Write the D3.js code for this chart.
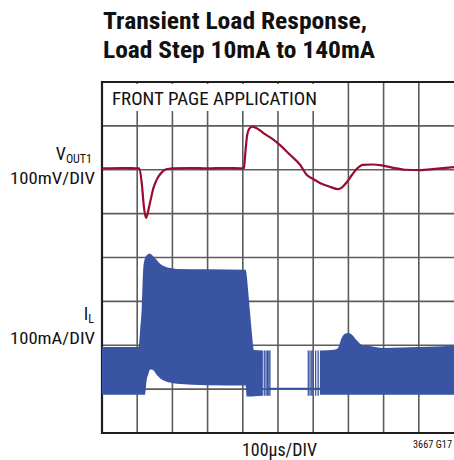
<!DOCTYPE html>
<html>
<head>
<meta charset="utf-8">
<script src="https://cdn.jsdelivr.net/npm/d3@7"></script>
<style>
  html, body { margin: 0; padding: 0; background: #fff; }
  svg { display: block; }
  text { font-family: 'Liberation Sans Narrow', 'Roboto Condensed', 'Liberation Sans', Arial, sans-serif; fill: #111; }
</style>
</head>
<body>
<svg id="chart" width="454" height="460"></svg>
<script>
// ---- Data ----
// Time axis in microseconds (100µs/DIV, 10 divisions)
const timeTicks = [0, 100, 200, 300, 400, 500, 600, 700, 800, 900, 1000];
const divTicks = [0, 1, 2, 3, 4, 5, 6, 7, 8];

// VOUT1 trace: time (µs) and deviation (mV), 100mV/DIV
const voutT  = [0, 60, 104, 106, 113, 119, 125, 129, 134, 140, 146, 153, 160, 170, 179, 190, 198, 250, 300, 350, 402, 403, 408, 412, 418, 426, 438, 450, 463, 483, 506, 534, 563, 582, 600, 619, 648, 670, 682, 696, 710, 724, 741, 767, 795, 824, 861, 903, 946, 1000];
const voutMv = [3, 4, 3, 3, -31, -84, -110, -102, -84, -62, -42, -27, -16, -6, 0, 2, 3, 4, 3, 4, 3, 4, 45, 77, 93, 98, 95, 89, 81, 71, 56, 34, 11, -12, -21, -30, -39, -44, -40, -28, -12, 2, 11, 12, 10, 5, 0, -1, 2, 6];

// IL envelope, segment 1 (before burst gap): time (µs), upper / lower (mA), 100mA/DIV
const il1T     = [0, 104, 108, 113, 117, 122, 127, 132, 136, 141, 146, 155, 160, 170, 184, 193, 212, 300, 408, 411, 415, 420, 425, 432, 457];
const il1Upper = [96, 96, 130, 188, 272, 298, 305, 308, 309, 306, 302, 295, 290, 283, 278, 276, 274, 273, 272, 260, 226, 180, 135, 89, 88];
const il1Lower = [-13, -13, -13, -13, -13, -13, 21, 35, 44, 45, 43, 33, 29, 22, 17, 15, 12, 9, 8, -17, -17, -17, -17, -16, -15];

// IL envelope, segment 2 (after burst gap)
const il2T     = [619, 660, 670, 680, 690, 700, 710, 725, 740, 753, 800, 900, 1000];
const il2Upper = [88, 90, 93, 115, 126, 128, 124, 110, 100, 99, 94, 96, 99];
const il2Lower = [-13, -13, -13, -13, -13, -13, -13, -13, -13, -13, -13, -13, -13];

// Burst-mode switching pulses in the low-load gap (µs)
const burstT = [461, 466, 470, 474, 477, 586, 591, 596, 600, 607, 614];
const burstTop = 88, burstBottom = -15;
// Idle current line during the gap
const idleT = [470, 620];
const idleMa = [1, 1];

// ---- Layout ----
const svg = d3.select('#chart');
const plot = { left: 102, right: 454, top: 82, bottom: 433 };

const x = d3.scaleLinear().domain([0, 1000]).range([plot.left, plot.right]);
const yDiv = d3.scaleLinear().domain([0, 8]).range([plot.bottom, plot.top]);
const yV = d3.scaleLinear().domain([-600, 200]).range([plot.bottom, plot.top]);  // VOUT1 zero at div 6
const yI = d3.scaleLinear().domain([-100, 700]).range([plot.bottom, plot.top]);  // IL zero at div 1

const gridColor = '#5c5c5c';
const red = '#9a0b30';
const blue = '#3a54a4';

// Grid
const grid = svg.append('g');
grid.selectAll('line.v').data(timeTicks.slice(1, -1)).enter().append('line')
  .attr('x1', d => x(d)).attr('x2', d => x(d))
  .attr('y1', plot.top).attr('y2', plot.bottom)
  .attr('stroke', gridColor).attr('stroke-width', 1.6);
grid.selectAll('line.h').data(divTicks.slice(1, -1)).enter().append('line')
  .attr('x1', plot.left).attr('x2', plot.right)
  .attr('y1', d => yDiv(d)).attr('y2', d => yDiv(d))
  .attr('stroke', gridColor).attr('stroke-width', 1.6);

// Border (left, top, bottom)
svg.append('path')
  .attr('d', `M${plot.right},${plot.top}H${plot.left}V${plot.bottom}H${plot.right}`)
  .attr('fill', 'none').attr('stroke', '#1e1e1e').attr('stroke-width', 2.2);

// Label box
svg.append('rect').attr('x', 104).attr('y', 84).attr('width', 217).attr('height', 27).attr('fill', '#fff');
svg.append('text').attr('x', 112).attr('y', 105).attr('font-size', 18)
  .attr('textLength', 205).attr('lengthAdjust', 'spacingAndGlyphs')
  .text('FRONT PAGE APPLICATION');

// IL envelopes
const area = d3.area().x(d => x(d.t)).y0(d => yI(d.lo)).y1(d => yI(d.hi)).curve(d3.curveMonotoneX);
const seg1 = il1T.map((t, i) => ({ t, hi: il1Upper[i], lo: il1Lower[i] }));
const seg2 = il2T.map((t, i) => ({ t, hi: il2Upper[i], lo: il2Lower[i] }));
svg.append('path').datum(seg1).attr('d', area).attr('fill', blue);
svg.append('path').datum(seg2).attr('d', area).attr('fill', blue);

// Idle line
svg.append('path')
  .datum(idleT.map((t, i) => ({ t, v: idleMa[i] })))
  .attr('d', d3.line().x(d => x(d.t)).y(d => yI(d.v)))
  .attr('stroke', blue).attr('stroke-width', 2).attr('fill', 'none');

// Burst pulses
svg.append('g').selectAll('line').data(burstT).enter().append('line')
  .attr('x1', d => x(d)).attr('x2', d => x(d))
  .attr('y1', yI(burstTop)).attr('y2', yI(burstBottom))
  .attr('stroke', blue).attr('stroke-width', 1.3);

// VOUT1 trace
svg.append('path')
  .datum(voutT.map((t, i) => ({ t, v: voutMv[i] })))
  .attr('d', d3.line().x(d => x(d.t)).y(d => yV(d.v)).curve(d3.curveMonotoneX))
  .attr('stroke', red).attr('stroke-width', 2.2).attr('fill', 'none').attr('stroke-linejoin', 'round');

// Title
svg.append('text').attr('x', 103).attr('y', 29).attr('font-size', 24).attr('font-weight', 'bold')
  .attr('textLength', 264).attr('lengthAdjust', 'spacingAndGlyphs')
  .text('Transient Load Response,');
svg.append('text').attr('x', 103).attr('y', 58).attr('font-size', 24).attr('font-weight', 'bold')
  .attr('textLength', 272).attr('lengthAdjust', 'spacingAndGlyphs')
  .text('Load Step 10mA to 140mA');

// Channel labels (subscripts as tspans)
const vLab = svg.append('text').attr('x', 92).attr('y', 160).attr('font-size', 18).attr('text-anchor', 'end');
vLab.append('tspan').text('V');
vLab.append('tspan').attr('font-size', 12).attr('dy', 3).text('OUT1');
svg.append('text').attr('x', 10).attr('y', 184).attr('font-size', 17)
  .attr('textLength', 85).attr('lengthAdjust', 'spacingAndGlyphs').text('100mV/DIV');

const iLab = svg.append('text').attr('x', 94).attr('y', 320).attr('font-size', 18).attr('text-anchor', 'end');
iLab.append('tspan').text('I');
iLab.append('tspan').attr('font-size', 12).attr('dy', 3).text('L');
svg.append('text').attr('x', 10).attr('y', 344).attr('font-size', 17)
  .attr('textLength', 85).attr('lengthAdjust', 'spacingAndGlyphs').text('100mA/DIV');

// Time label and figure code
svg.append('text').attr('x', 242).attr('y', 456).attr('font-size', 18)
  .attr('textLength', 75).attr('lengthAdjust', 'spacingAndGlyphs').text('100µs/DIV');
svg.append('text').attr('x', 413).attr('y', 448).attr('font-size', 10)
  .attr('textLength', 39).attr('lengthAdjust', 'spacingAndGlyphs').text('3667 G17');
</script>
</body>
</html>
